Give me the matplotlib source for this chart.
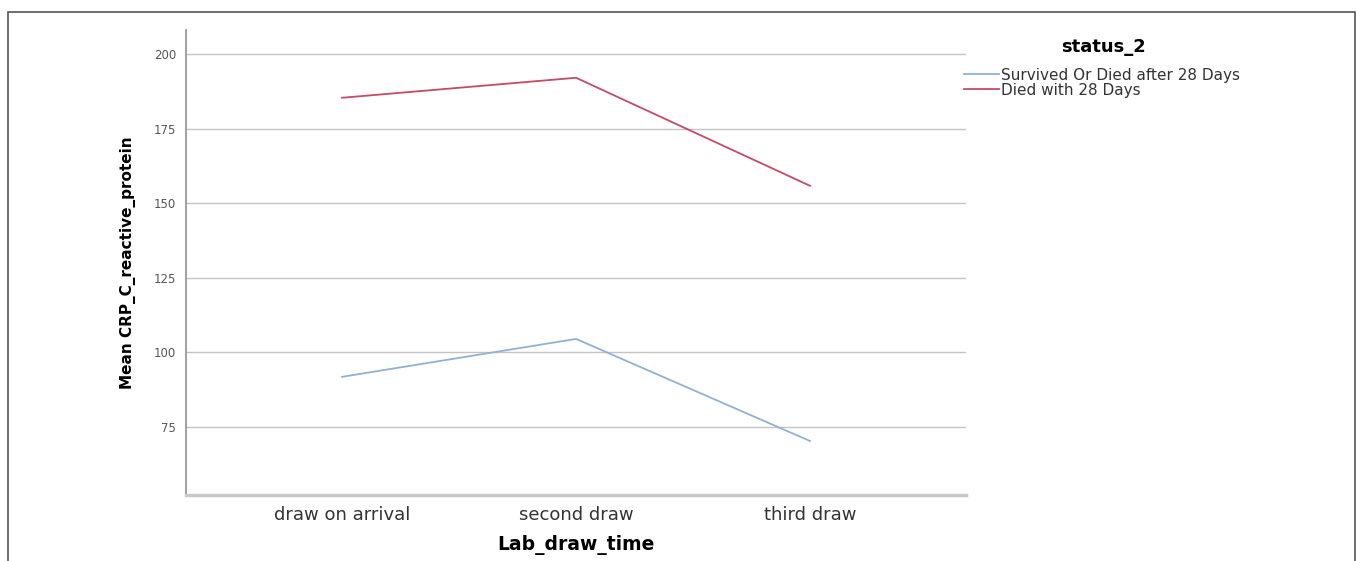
import matplotlib.pyplot as plt
from matplotlib.patches import Rectangle

# Datos
draw_times = ["draw on arrival", "second draw", "third draw"]
survived = [91.8, 104.5, 70.3]
died = [185.3, 192.0, 155.8]
series_names = ["Survived Or Died after 28 Days", "Died with 28 Days"]
y_ticks = [75, 100, 125, 150, 175, 200]

plt.rcParams['font.family'] = ['DejaVu Sans']

fig = plt.figure(figsize=(13.57, 5.61), dpi=100)
ax = fig.add_axes([0.1371, 0.1176, 0.5748, 0.8289])

# marco exterior
fig.patches.append(Rectangle((0.0059, -0.05), 0.9926, 1.0286, transform=fig.transFigure,
                             fill=False, edgecolor='#555555', linewidth=1.2))

x = list(range(len(draw_times)))
ax.plot(x, survived, color='#8fb2d4', linewidth=1.3, label=series_names[0])
ax.plot(x, died, color='#c44a66', linewidth=1.3, label=series_names[1])

ax.set_xlim(-0.667, 2.667)
ax.set_ylim(52.2, 208)
ax.set_yticks(y_ticks)
ax.set_yticklabels([str(v) for v in y_ticks], fontsize=8.5, color='#555555')
ax.set_xticks(x)
ax.set_xticklabels(draw_times, fontsize=13, color='#333333')
ax.tick_params(axis='x', length=0, pad=8)
ax.tick_params(axis='y', length=0, pad=7)
ax.grid(axis='y', color='#c4c4c4', linewidth=1.0)
ax.set_axisbelow(True)

for s in ['top', 'right']:
    ax.spines[s].set_visible(False)
ax.spines['left'].set_color('#999999')
ax.spines['left'].set_linewidth(1.3)
ax.spines['bottom'].set_color('#c8c8c8')
ax.spines['bottom'].set_linewidth(2.5)

ax.set_xlabel("Lab_draw_time", fontsize=13.5, fontweight='bold', labelpad=8)
ax.set_ylabel("Mean CRP_C_reactive_protein", fontsize=11, fontweight='bold', labelpad=13)

# titulo de la leyenda
fig.text(1104 / 1357, 1 - 47 / 561, "status_2", fontsize=13, fontweight='bold',
         ha='center', va='center')

leg = ax.legend(loc='upper left', bbox_to_anchor=(0.997, 0.919), frameon=False,
                fontsize=11, handlelength=2.3, handletextpad=0.15,
                labelspacing=0.0, borderaxespad=0, borderpad=0)
for t in leg.get_texts():
    t.set_color('#333333')

fig.savefig("out.png", dpi=100)
